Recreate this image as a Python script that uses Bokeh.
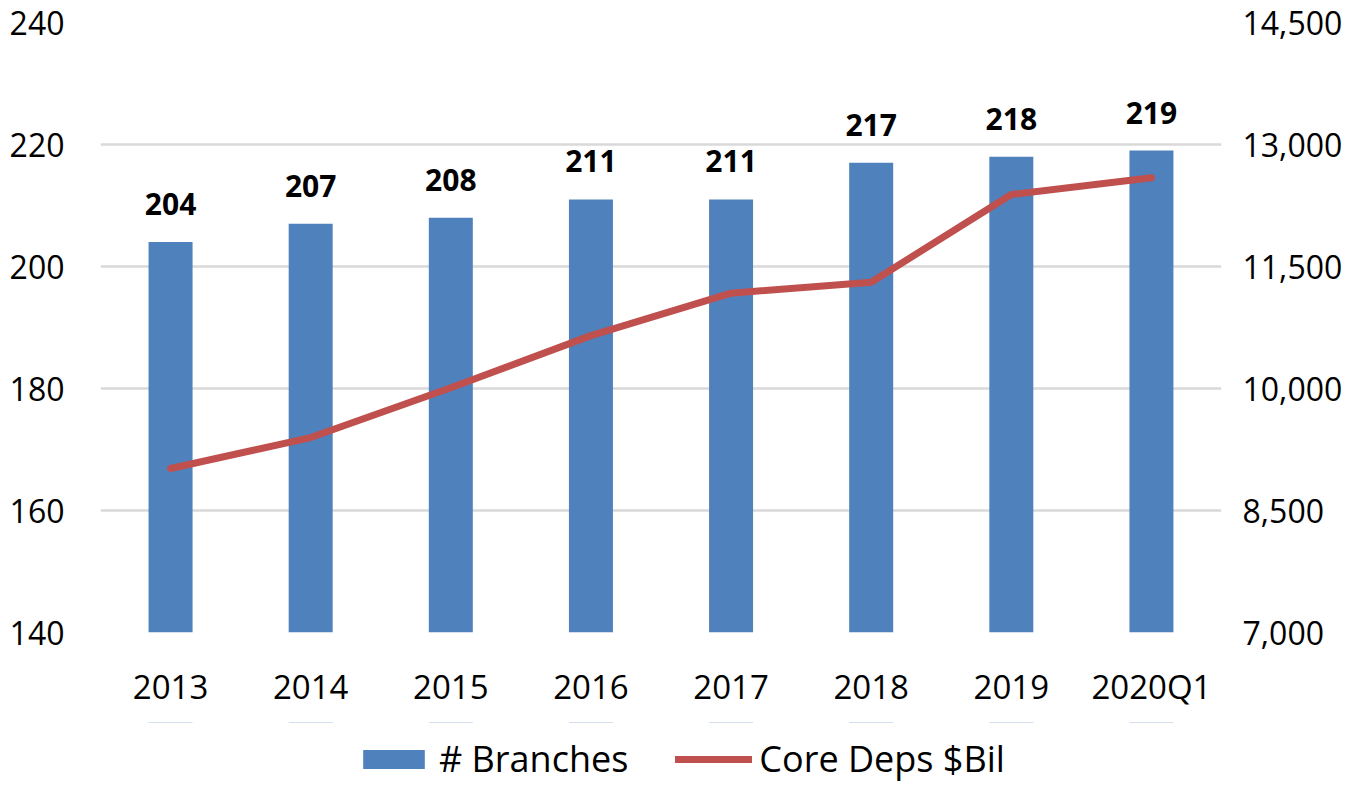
from bokeh.plotting import figure
from bokeh.layouts import column
from bokeh.models import ColumnDataSource, Range1d, LinearAxis, FactorRange, LabelSet, Legend, LegendItem, NumeralTickFormatter, FixedTicker
from bokeh.core.properties import value
from bokeh.embed import file_html
from bokeh.resources import INLINE

categories = ["2013", "2014", "2015", "2016", "2017", "2018", "2019", "2020Q1"]
branches = [204, 207, 208, 211, 211, 217, 218, 219]
core_deps = [9016, 9397, 10010, 10650, 11172, 11307, 12385, 12590]
left_ticks = [140, 160, 180, 200, 220, 240]
right_ticks = [7000, 8500, 10000, 11500, 13000, 14500]
series_names = ["# Branches", "Core Deps $Bil"]

FONT = "Open Sans"
BLUE = "#4F81BD"
RED = "#C0504D"
W = 1351

src = ColumnDataSource(dict(cat=categories, branches=branches, deps=core_deps,
                            lbl=[str(b) for b in branches]))

p = figure(x_range=FactorRange(*categories), y_range=Range1d(140, 240),
           width=W, height=722,
           min_border_left=100, min_border_right=130, min_border_top=22, min_border_bottom=90,
           output_backend="svg", toolbar_location=None)
p.outline_line_color = None
p.background_fill_color = "white"
p.border_fill_color = "white"
p.extra_y_ranges = {"right": Range1d(7000, 14500)}

bars = p.vbar(x="cat", top="branches", bottom=140, width=0.314, source=src,
              fill_color=BLUE, line_color=None)
line = p.line(x="cat", y="deps", source=src, y_range_name="right",
              line_color=RED, line_width=7, line_cap="round", line_join="round")

labels = LabelSet(x="cat", y="branches", text="lbl", source=src, text_align="center",
                  text_baseline="alphabetic", y_offset=27, text_font=value(FONT),
                  text_font_size="30px", text_font_style="bold", text_color="black")
p.add_layout(labels)

# grid
p.xgrid.grid_line_color = None
p.ygrid.grid_line_color = "#D9D9D9"
p.ygrid.grid_line_width = 2.5
p.ygrid.ticker = FixedTicker(ticks=left_ticks)

rax = LinearAxis(y_range_name="right", ticker=FixedTicker(ticks=right_ticks),
                 formatter=NumeralTickFormatter(format="0,0"))
p.add_layout(rax, "right")

# axes
for ax in [p.xaxis[0], p.yaxis[0], rax]:
    ax.axis_line_color = None
    ax.major_tick_line_color = None
    ax.minor_tick_line_color = None
    ax.major_tick_out = 0
    ax.major_tick_in = 0
    ax.minor_tick_out = 0
    ax.minor_tick_in = 0
    ax.major_label_text_font = FONT
    ax.major_label_text_font_size = "33px"
    ax.major_label_text_color = "black"
rax.major_label_text_font_size = "32px"
p.yaxis[0].major_label_text_font_size = "32px"
p.yaxis[0].ticker = FixedTicker(ticks=left_ticks)
p.yaxis[0].major_label_standoff = 36
p.xaxis[0].major_label_standoff = 31
rax.major_label_standoff = 21

# legend strip below the chart (key renderers lie outside its visible range)
pl = figure(width=W, height=74, x_range=p.x_range, y_range=Range1d(0, 1),
            x_axis_location=None, y_axis_location=None,
            min_border_left=0, min_border_right=0, min_border_top=0, min_border_bottom=0,
            output_backend="svg", toolbar_location=None)
pl.outline_line_color = None
pl.grid.visible = False
pl.border_fill_color = "white"
pl.background_fill_color = "white"
key_bar = pl.vbar(x="cat", top="branches", bottom=140, width=0.314, source=src,
                  fill_color=BLUE, line_color=None)
key_line = pl.line(x="cat", y="deps", source=src, line_color=RED, line_width=7,
                   line_cap="round", line_join="round")

legend = Legend(items=[LegendItem(label=value(series_names[0]), renderers=[key_bar]),
                       LegendItem(label=value(series_names[1]), renderers=[key_line])],
                orientation="horizontal", location=(255, 13),
                label_text_font=FONT, label_text_font_size="36px",
                label_text_color="black", label_text_baseline="middle",
                glyph_width=77, glyph_height=24, label_standoff=7, spacing=47,
                padding=0, margin=0, border_line_color=None, background_fill_alpha=0)
pl.add_layout(legend, "center")

layout = column(p, pl, spacing=0)
open("out.html", "w").write(file_html(layout, INLINE))
